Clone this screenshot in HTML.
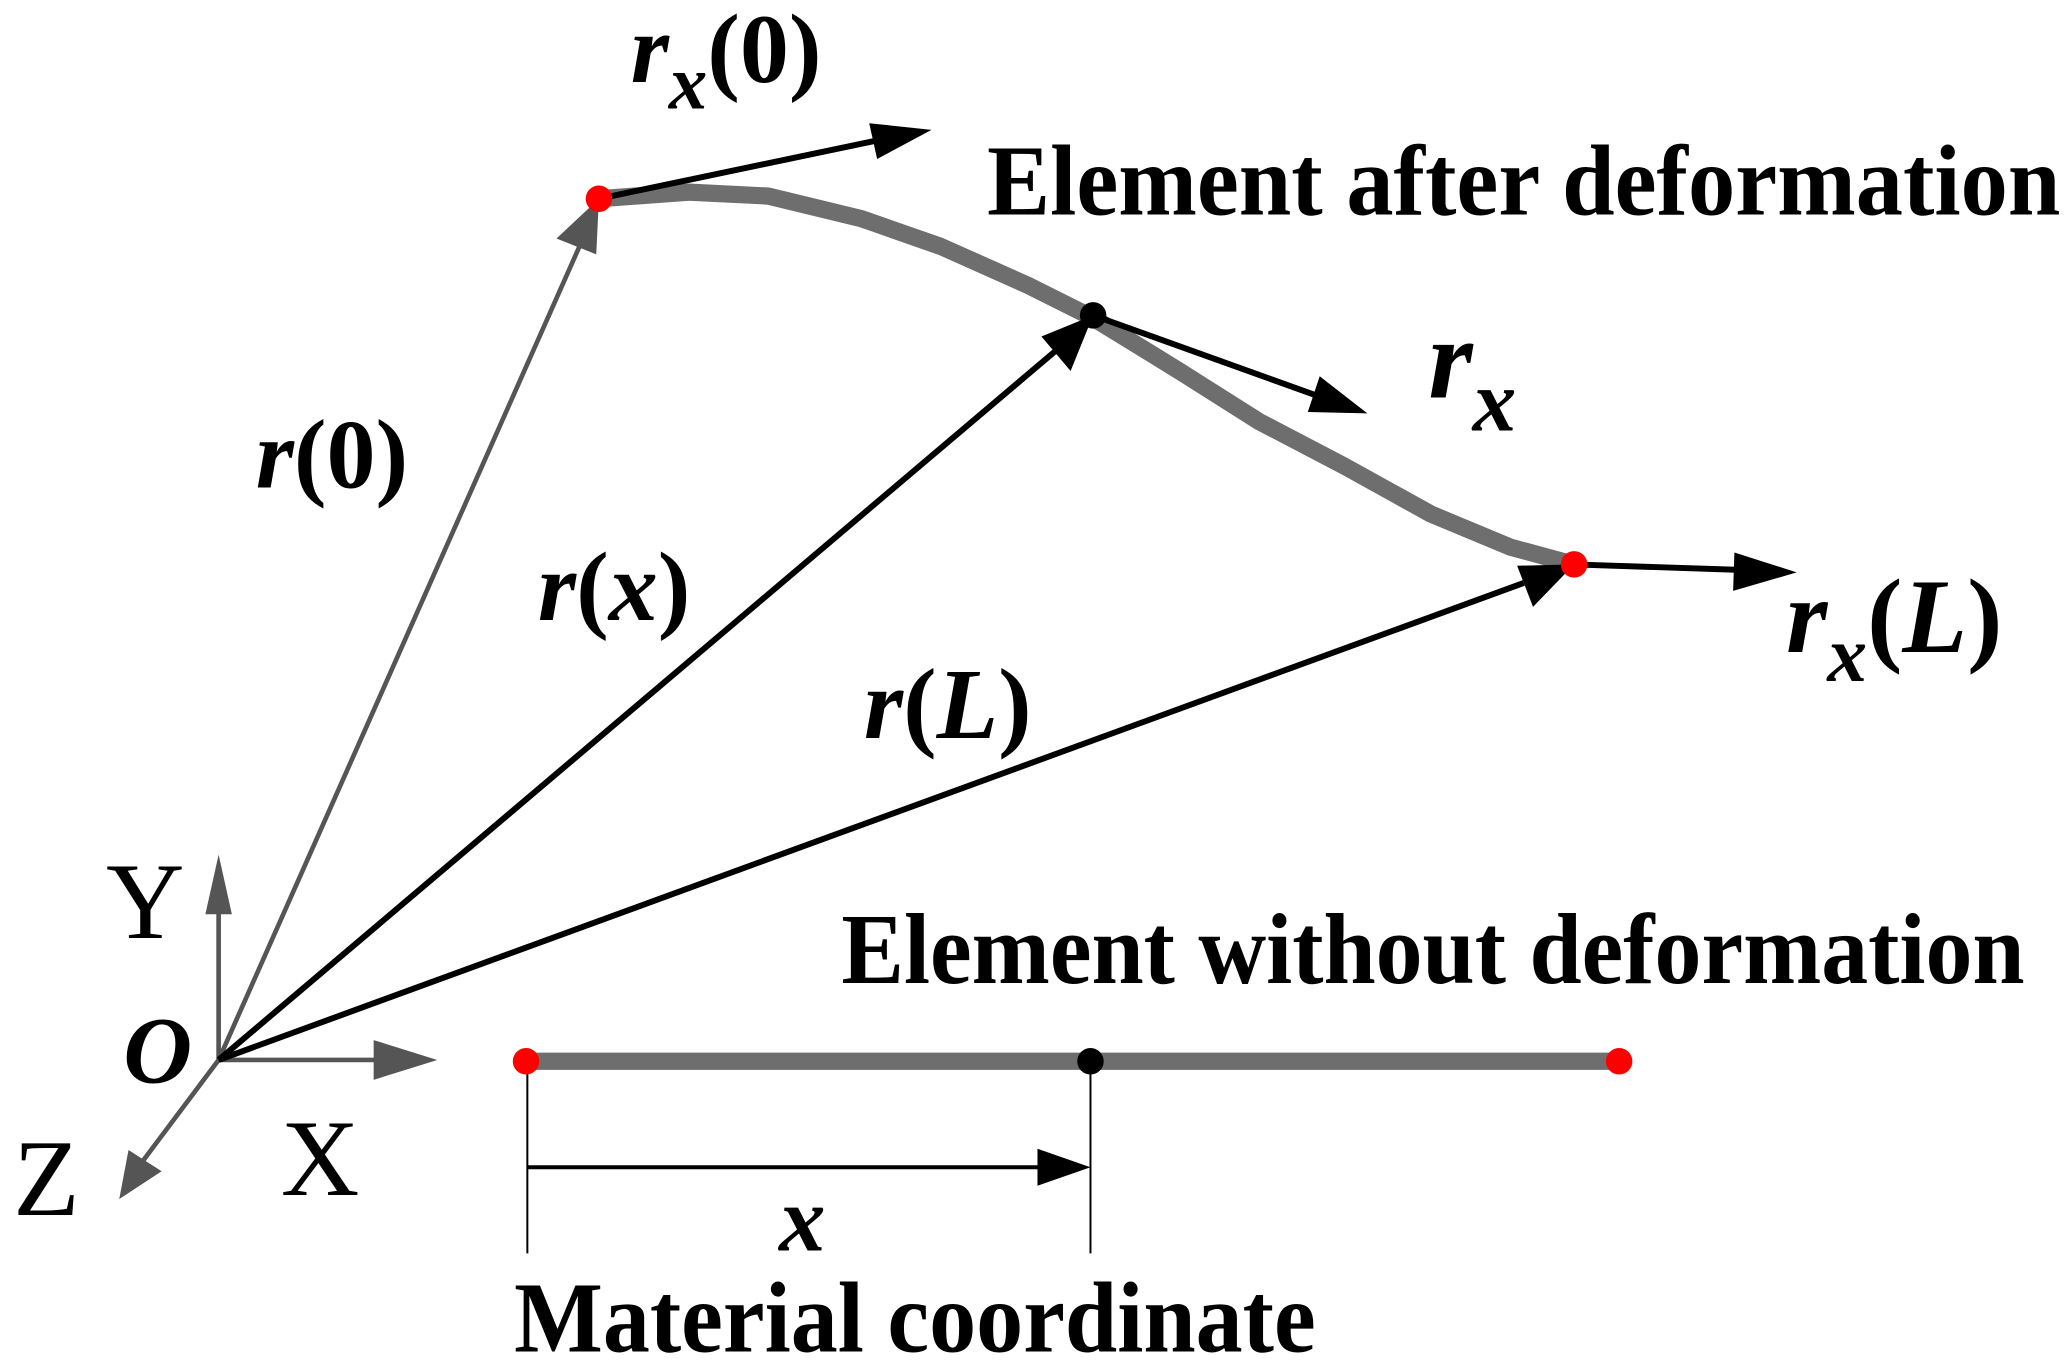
<!DOCTYPE html>
<html><head><meta charset="utf-8"><style>html,body{margin:0;padding:0;background:#fff}svg{display:block}</style></head>
<body>
<svg width="2067" height="1366" viewBox="0 0 1560 1031" preserveAspectRatio="none" xmlns="http://www.w3.org/2000/svg" font-family="'Liberation Serif', serif">
<!-- curve -->
<polyline points="452,150 520,145 580,148 650,165 710,186 775,215 825,240 890,280 950,318 1015,352 1080,388 1140,413 1188,426" fill="none" stroke="#6e6e6e" stroke-width="13" stroke-linejoin="round"/>
<!-- axes -->
<g stroke="#555" stroke-width="3.5" fill="#555">
<line x1="165" y1="800" x2="165" y2="685"/><path d="M155,690 L165,645 L175,690 Z" stroke="none"/>
<line x1="165" y1="800" x2="290" y2="800"/><path d="M282,785 L330,800 L282,815 Z" stroke="none"/>
<line x1="165" y1="800" x2="105" y2="880"/><path d="M90,905 L97,868 L122,884 Z" stroke="none"/>
<line x1="165" y1="800" x2="440" y2="180"/><path d="M452,150 L450,192 L420,180 Z" stroke="none"/>
</g>
<g stroke="#000" stroke-width="4.5" fill="#000">
<line x1="165" y1="800" x2="800" y2="262"/><path d="M825,238 L808,280 L786,254 Z" stroke="none"/>
<line x1="165" y1="800" x2="1150" y2="440"/><path d="M1188,426 L1157,458 L1145,427 Z" stroke="none"/>
<line x1="452" y1="150" x2="662" y2="106"/><path d="M703,98 L662,120 L656,93 Z" stroke="none"/>
<line x1="825" y1="238" x2="995" y2="299"/><path d="M1032,312 L987,311 L996,284 Z" stroke="none"/>
<line x1="1188" y1="426" x2="1310" y2="430"/><path d="M1356,432 L1308,446 L1309,417 Z" stroke="none"/>
</g>
<!-- bottom bar -->
<line x1="397" y1="801" x2="1222" y2="801" stroke="#6e6e6e" stroke-width="13"/>
<g stroke="#000" stroke-width="1.5"><line x1="398" y1="801" x2="398" y2="946"/><line x1="823" y1="801" x2="823" y2="946"/></g>
<line x1="398" y1="881" x2="785" y2="881" stroke="#000" stroke-width="3"/><path d="M823,881 L783,867 L783,895 Z" fill="#000"/>
<!-- dots -->
<circle cx="452" cy="150" r="10" fill="red"/><circle cx="1188" cy="426" r="10" fill="red"/><circle cx="825" cy="238" r="10" fill="#000"/>
<circle cx="397" cy="801" r="10" fill="red"/><circle cx="1222" cy="801" r="10" fill="red"/><circle cx="823" cy="801" r="10" fill="#000"/>
<!-- labels -->
<g font-weight="bold" fill="#000">
<text x="745" y="162" font-size="76" textLength="810" lengthAdjust="spacingAndGlyphs">Element after deformation</text>
<text x="635" y="742" font-size="76" textLength="893" lengthAdjust="spacingAndGlyphs">Element without deformation</text>
<text x="388" y="1020" font-size="76" textLength="605" lengthAdjust="spacingAndGlyphs">Material coordinate</text>
<text x="476" y="62" font-size="74"><tspan font-style="italic">r</tspan><tspan font-style="italic" font-size="58" dy="20">x</tspan><tspan dy="-20">(0)</tspan></text>
<text x="193" y="368" font-size="74"><tspan font-style="italic">r</tspan>(0)</text>
<text x="406" y="468" font-size="74"><tspan font-style="italic">r</tspan>(<tspan font-style="italic">x</tspan>)</text>
<text x="652" y="557" font-size="76"><tspan font-style="italic">r</tspan>(<tspan font-style="italic">L</tspan>)</text>
<text x="1078" y="300" font-size="86" font-style="italic">r<tspan font-size="66" dy="25">x</tspan></text>
<text x="1348" y="492" font-size="80"><tspan font-style="italic">r</tspan><tspan font-style="italic" font-size="60" dy="22">x</tspan><tspan dy="-22">(</tspan><tspan font-style="italic">L</tspan>)</text>
<text x="588" y="944" font-size="70" font-style="italic">x</text>
</g>
<g fill="#000" font-size="82">
<text x="80" y="708">Y</text>
<text x="212" y="902">X</text>
<text x="10" y="917">Z</text>
<text x="93" y="817" font-style="italic" font-weight="bold" font-size="72">O</text>
</g>
</svg>
</body></html>
